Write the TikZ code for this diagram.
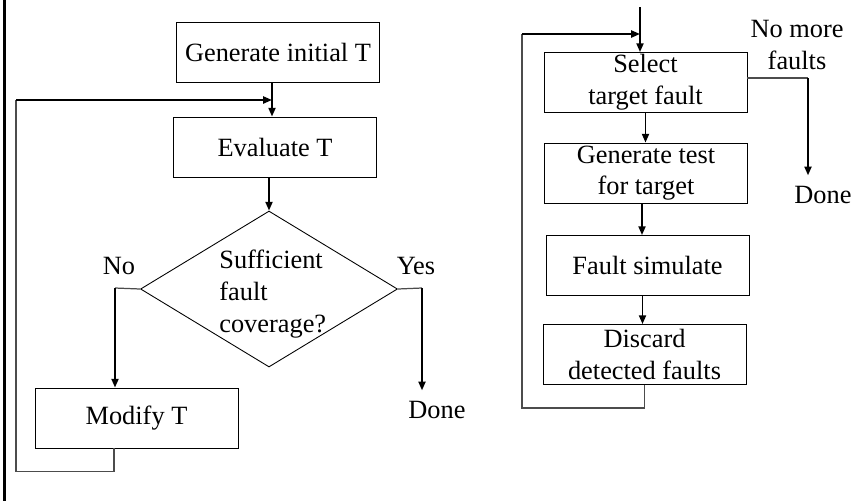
\documentclass[tikz,border=0pt]{standalone}
\usepackage{fontspec}
\setmainfont{Liberation Serif}
\usepackage{tikz}
\usetikzlibrary{arrows.meta, positioning, shapes.geometric}

\begin{document}
\begin{tikzpicture}[x=0.02cm, y=-0.02cm,
    box/.style={draw, line width=0.5pt, minimum width=4.06cm, minimum height=1.2cm, inner sep=0pt, align=center, font=\fontsize{15}{18}\selectfont},
    lbl/.style={inner sep=0pt, align=center, font=\fontsize{15}{18}\selectfont},
    flow/.style={line width=1.1pt, -{Triangle[length=5pt, width=4pt]}},
    wire/.style={line width=0.7pt, black!70}]
        \useasboundingbox (0,0) rectangle (865,501);

        % Left edge
        \coordinate (edgeT) at (4.5,0);
        \coordinate (edgeB) at (4.5,501);
        \draw[line width=1.3pt] (edgeT) -- (edgeB);

        % Coverage loop
        \node[box] (gen) at (278,52) {Generate initial T};
        \node[box] (eval) at (275,147) {Evaluate T};
        \node[diamond, draw, line width=0.5pt, minimum width=5.14cm, minimum height=3.12cm, inner sep=0pt] (cov) at (269,289) {};
        \node[lbl, align=left, anchor=west] (covtext) at (219,294) {Sufficient\\fault\\coverage?};
        \node[lbl] (no) at (119,266) {No};
        \node[lbl] (yes) at (416,266) {Yes};
        \node[box] (mod) at (136.5,418) {Modify T};
        \node[lbl] (doneL) at (437,410) {Done};
        \coordinate (join1) at (272,100);
        \coordinate (loopTL) at (16,100);
        \coordinate (exitN) at (115,288);
        \coordinate (exitY) at (422,288);
        \draw[flow] (gen.south -| join1) -- (eval.north -| join1);
        \draw[flow] (eval.south -| cov.north) -- (cov.north);
        \draw[wire] (cov.west) -- (exitN);
        \draw[flow] (exitN) -- (exitN |- mod.north);
        \draw[wire] (cov.east) -- (exitY);
        \draw[flow, shorten >=6pt] (exitY) -- (exitY |- doneL.north);
        \draw[wire] ([xshift=-0.45cm]mod.south) -- ++(0,23) -| (loopTL);
        \draw[flow] (loopTL) -- (join1);

        % Target fault loop
        \node[box] (sel) at (645.5,82.5) {Select\\target fault};
        \node[box] (gent) at (646,173) {Generate test\\for target};
        \node[box] (sim) at (647.5,265.5) {Fault simulate};
        \node[box] (disc) at (644.5,354.5) {Discard\\detected faults};
        \node[lbl] (nomore) at (797,45) {No more\\faults};
        \node[lbl] (doneR) at (823,195) {Done};
        \coordinate (entry) at (640,7);
        \coordinate (join2) at (640,34);
        \coordinate (loopTR) at (522,34);
        \coordinate (exitR) at (808,78);
        \draw[flow] (entry) -- (entry |- sel.north);
        \draw[flow] (sel.south) -- (sel.south |- gent.north);
        \draw[flow] ([xshift=-0.08cm]gent.south) -- ([xshift=-0.08cm]gent.south |- sim.north);
        \draw[flow] ([xshift=-0.1cm]sim.south) -- ([xshift=-0.1cm]sim.south |- disc.north);
        \draw[wire] (sel.east |- exitR) -- (exitR);
        \draw[flow, shorten >=6pt] (exitR) -- (exitR |- doneR.north);
        \draw[wire] (disc.south) -- ++(0,23) -| (loopTR);
        \draw[flow] (loopTR) -- (join2);
\end{tikzpicture}
\end{document}
